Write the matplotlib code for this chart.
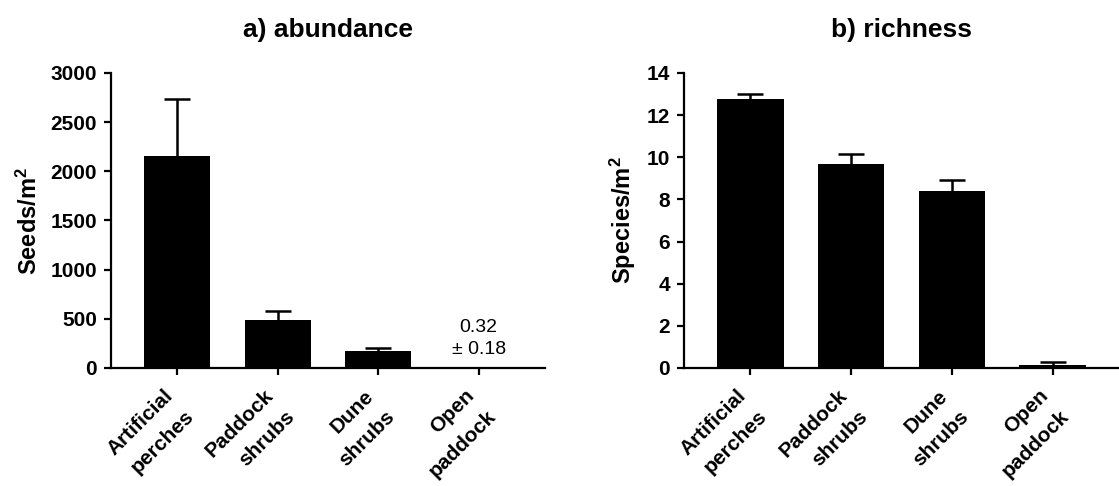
import matplotlib
matplotlib.use("Agg")
import matplotlib.pyplot as plt
import matplotlib.transforms as mtransforms
import numpy as np

plt.rcParams["font.family"] = ["Liberation Sans", "DejaVu Sans"]
plt.rcParams["font.weight"] = "bold"
plt.rcParams["mathtext.fontset"] = "custom"
plt.rcParams["mathtext.rm"] = "Liberation Sans:bold"
plt.rcParams["mathtext.bf"] = "Liberation Sans:bold"
plt.rcParams["mathtext.it"] = "Liberation Sans:bold"

habitats = ["Artificial\nperches", "Paddock\nshrubs", "Dune\nshrubs", "Open\npaddock"]

# seed abundance (seeds/m2), mean and SEM
abund_mean = [2157, 493, 170, 0.32]
abund_sem = [581, 88, 34, 0.18]

# species richness (species/m2), mean and SEM
rich_mean = [12.76, 9.67, 8.39, 0.15]
rich_sem = [0.26, 0.49, 0.52, 0.13]

fig = plt.figure(figsize=(11.19, 4.86), dpi=100)
ax1 = fig.add_axes([0.0992, 0.2428, 0.3878, 0.607])
ax2 = fig.add_axes([0.6113, 0.2428, 0.3887, 0.607])


def bar_panel(ax, means, sems, title, ylabel, ymax, ystep):
    x = np.arange(len(means))
    ax.bar(x, means, width=0.66, color="black", zorder=2)
    # only the upper half of the SEM bar is shown
    _, caps, _ = ax.errorbar(x, means, yerr=[np.zeros(len(sems)), sems], fmt="none",
                             ecolor="black", elinewidth=1.8, capsize=9.5,
                             capthick=1.8, zorder=3)
    caps[0].set_visible(False)
    ax.set_xlim(-0.66, 3.66)
    ax.set_ylim(0, ymax)
    ax.set_yticks(np.arange(0, ymax + ystep / 2, ystep))
    ax.set_xticks(x)
    ax.set_xticklabels([])
    # rotated category labels, set slightly left of and below each tick
    lab_trans = mtransforms.offset_copy(ax.get_xaxis_transform(), fig=fig,
                                        x=-10, y=-13, units="points")
    for xi, name in zip(x, habitats):
        ax.text(xi, 0, name, transform=lab_trans, rotation=45, ha="right",
                va="top", rotation_mode="anchor", fontsize=15,
                fontweight="bold", linespacing=1.7)
    for side in ["top", "right"]:
        ax.spines[side].set_visible(False)
    for side in ["left", "bottom"]:
        ax.spines[side].set_linewidth(1.6)
    ax.tick_params(axis="both", length=5, width=1.6, direction="out")
    ax.tick_params(axis="y", labelsize=15, pad=5)
    ax.set_title(title, fontsize=19, fontweight="bold", pad=26)
    ax.set_ylabel(ylabel, fontsize=17, fontweight="bold")


bar_panel(ax1, abund_mean, abund_sem, "a) abundance", "Seeds/m$^2$", 3000, 500)
bar_panel(ax2, rich_mean, rich_sem, "b) richness", "Species/m$^2$", 14, 2)
ax1.yaxis.set_label_coords(-0.16, 0.5)
ax2.yaxis.set_label_coords(-0.106, 0.5)

# open paddock abundance is too small to see, so its value is written instead
ax1.text(3, abund_mean[3] + 105, f"{abund_mean[3]:.2f}\n\u00b1 {abund_sem[3]:.2f}",
         ha="center", va="bottom", fontsize=14, fontweight="normal",
         linespacing=1.35)

fig.savefig("out.png", dpi=100)
